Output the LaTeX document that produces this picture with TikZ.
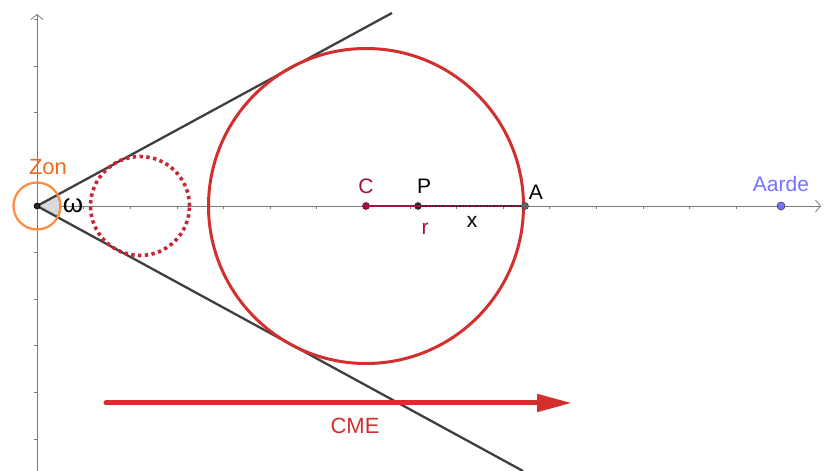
\documentclass[tikz,border=0pt]{standalone}
\usepackage{fontspec}
\setmainfont{Liberation Sans}
\usepackage{xcolor}
\usepackage{tikz}
\usetikzlibrary{positioning,arrows.meta,calc}
\definecolor{ZONorange}{HTML}{FF8A40}
\definecolor{ZONtext}{HTML}{F26A1B}
\definecolor{CMEred}{HTML}{D32F2F}
\definecolor{CMEdot}{HTML}{C62835}
\definecolor{Ccrimson}{HTML}{A3123F}
\definecolor{AXgray}{HTML}{7A7A7A}
\definecolor{CONEgray}{HTML}{3F3F3F}
\definecolor{AARDEblue}{HTML}{7373FF}
\tikzset{
  axisline/.style={draw=AXgray, line width=0.8pt, -{Straight Barb[length=5pt,width=12pt]}},
  tickmark/.style={draw=AXgray, line width=0.6pt},
  coneline/.style={draw=CONEgray, line width=2.3pt},
  cmecircle/.style={draw=CMEred, line width=3pt},
  dotpt/.style={circle, inner sep=0pt, minimum size=7pt, draw=CONEgray, fill=CONEgray, line width=0.6pt},
  lbl/.style={inner sep=0pt, font=\fontsize{21}{25}\selectfont}
}

\begin{document}
\begin{tikzpicture}[x=1pt, y=1pt]
\useasboundingbox (0,0) rectangle (830,471);
% assen
\coordinate (O) at (37,265);
\draw[axisline] (37,0) -- (37,457);
\draw[axisline] (O) -- (821,265);
\foreach \k in {1,...,16} \draw[tickmark] ($(O)+(46.6*\k,0)$) -- ++(0,-3);
\foreach \k in {-5,...,-1,1,2,3,4} \draw[tickmark] ($(O)+(0,46.6*\k)$) -- ++(-3,0);
% kegel
\coordinate (up) at ($(O)+(355,193)$);
\coordinate (low) at ($(O)+(486,-265)$);
\fill[gray!30] (O) -- ++(-28.57:23) arc (-28.57:28.57:23) -- cycle;
\draw[CONEgray, line width=0.8pt] ($(O)+(-28.57:23)$) arc (-28.57:28.57:23);
\draw[coneline] (O) -- (up);
\draw[coneline] (O) -- (low);
% zon
\draw[ZONorange, line width=2.2pt] (O) circle (23.5);
\node[dotpt, minimum size=6pt, draw=black, fill=black!85] (zon) at (O) {};
\node[lbl, text=ZONtext, font=\fontsize{22}{26}\selectfont] (zonlbl) at (48,304) {Zon};
\node[lbl, font=\fontsize{26}{30}\selectfont] (omega) at (73,265) {ω};
% CME wolken
\draw[CMEdot, line width=3.6pt, dash pattern=on 3.4pt off 3.4pt] (140,265) circle (49.5);
\draw[cmecircle] (366,265) circle (157.5);
% punten
\node[dotpt, draw=Ccrimson!70!black, fill=Ccrimson] (C) at (366,265) {};
\node[dotpt, fill=black!85] (P) at (418,265) {};
\node[dotpt, fill=CONEgray!80] (A) at (525,265) {};
\node[dotpt, minimum size=8pt, draw=CONEgray, fill=AARDEblue] (aarde) at (781,265) {};
\draw[Ccrimson, line width=2.6pt] (C) -- (A);
\draw[black!85, line width=1.4pt, dotted] (P) -- (A);
\node[lbl, text=Ccrimson, above=8pt of C] (Clbl) {C};
\node[lbl, above=8pt of P, xshift=6pt] (Plbl) {P};
\node[lbl, above right=4pt and 1pt of A] (Albl) {A};
\node[lbl, text=Ccrimson] (rlbl) at (425,242) {r};
\node[lbl] (xlbl) at (472,249) {x};
\node[lbl, text=AARDEblue, above=10pt of aarde] (aardelbl) {Aarde};
% CME pijl
\coordinate (cmestart) at (106,68);
\coordinate (cmeend) at (572,68);
\draw[CMEred, line width=5pt, line cap=round, -{Triangle[length=35pt,width=17pt]}] (cmestart) -- (cmeend);
\node[lbl, text=CMEred, font=\fontsize{22}{26}\selectfont] (cmelbl) at (355,45) {CME};
\end{tikzpicture}
\end{document}
